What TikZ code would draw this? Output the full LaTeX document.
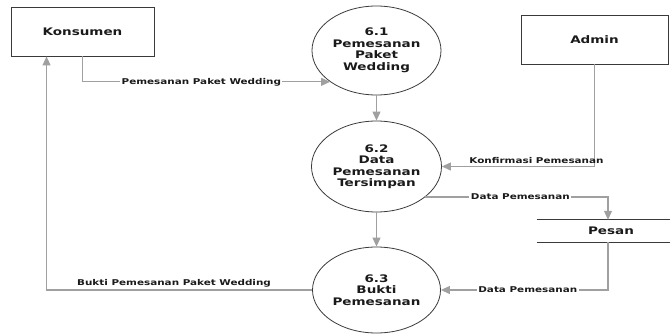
\documentclass[tikz,border=0pt]{standalone}
\usepackage{fontspec}
\newfontfamily\bigf[FakeStretch=1.3]{DejaVu Sans Bold}
\newfontfamily\smallf[FakeStretch=1.3]{DejaVu Sans Bold}
\usetikzlibrary{arrows.meta,shapes.geometric,calc}
\definecolor{flowgray}{HTML}{A0A0A0}
\definecolor{edgedark}{HTML}{3A3A3A}
\definecolor{txt}{HTML}{1A1A1A}
\begin{document}
\begin{tikzpicture}[x=1pt,y=-1pt,
  entity/.style={draw=edgedark,line width=0.9pt,minimum width=143pt,minimum height=49pt,inner sep=0pt,font=\bigf\fontsize{10.4}{11.5}\selectfont,text=txt},
  proc/.style={ellipse,draw=edgedark,line width=0.8pt,inner sep=0pt,align=center,font=\bigf\fontsize{10.4}{11.5}\selectfont,text=txt},
  flow/.style={draw=flowgray,line width=1.1pt,-{Triangle[length=9pt,width=8pt]}},
  flowlbl/.style={font=\smallf\fontsize{8}{9}\selectfont,text=txt,inner sep=1.5pt},
  onl/.style={flowlbl,fill=white},
  abl/.style={flowlbl,above=1pt}]
\useasboundingbox (0,0) rectangle (670,335);
\node[entity] (kons) at (82.5,31.5) {Konsumen};
\node[entity,minimum width=147pt] (admin) at (594.5,39.5) {Admin};
\node[proc,minimum width=129pt,minimum height=89pt] (p61) at (376.5,50.5) {6.1\\Pemesanan\\Paket\\Wedding};
\node[proc,minimum width=130pt,minimum height=91pt] (p62) at (376.5,166.5) {6.2\\Data\\Pemesanan\\Tersimpan};
\node[proc,minimum width=128pt,minimum height=86pt] (p63) at (376.5,290) {6.3\\Bukti\\Pemesanan};
\node[minimum width=142pt,minimum height=22pt,inner sep=0pt,font=\bigf\fontsize{10.4}{11.5}\selectfont,text=txt] (pesan) at (608,231) {\hspace{6pt}Pesan};
\draw[edgedark,line width=1pt] (pesan.north west) -- (pesan.north east);
\draw[edgedark,line width=1pt] (pesan.south west) -- (pesan.south east);
\coordinate (konsin) at ($(kons.south west)+(36,0)$);
\draw[flow] (kons.south) |- (p61.214) node[onl,pos=0.74] (l1) {Pemesanan Paket Wedding};
\draw[flow] (p61.south) -- (p62.north);
\draw[flow] (p62.south) -- (p63.north);
\draw[flow] (admin.south) |- (p62.east) node[abl,pos=0.69] (l2) {Konfirmasi Pemesanan};
\draw[flow] (p62.-32) -| (pesan.north) node[onl,pos=0.26] (l3) {Data Pemesanan};
\draw[flow] (pesan.south) |- (p63.east) node[onl,pos=0.74] (l4) {Data Pemesanan};
\draw[flow] (p63.west) -| (konsin) node[abl,pos=0.26] (l5) {Bukti Pemesanan Paket Wedding};
\end{tikzpicture}
\end{document}
